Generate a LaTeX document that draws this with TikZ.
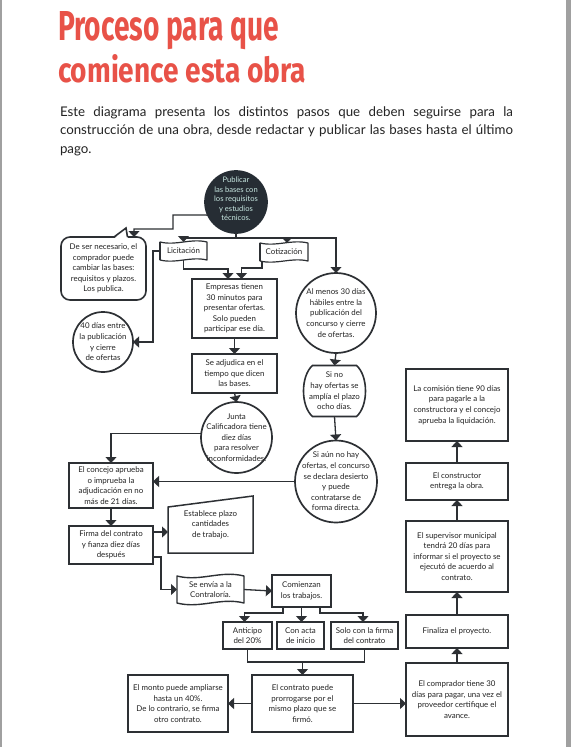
\documentclass[tikz,border=0pt]{standalone}
\usepackage{fontspec}
\setmainfont{Lato}
\newfontfamily\titlefont{Fira Sans}
\usetikzlibrary{arrows.meta,calc}
\definecolor{linec}{RGB}{45,48,52}
\definecolor{titlered}{RGB}{232,82,72}
\definecolor{txt}{RGB}{35,35,35}
\definecolor{darkfill}{RGB}{38,45,52}
\definecolor{mint}{RGB}{200,232,226}
\definecolor{barg}{RGB}{160,160,160}
\begin{document}
\begin{tikzpicture}[x=1pt,y=-1pt,
  every node/.style={inner sep=0pt, outer sep=0pt, text=txt},
  sm/.style={font=\fontsize{7.9}{10.6}\selectfont, align=center},
  box/.style={sm, draw=linec, line width=1.2pt, fill=white, rectangle},
  circ/.style={draw=linec, line width=1.7pt, circle, fill=white},
  conn/.style={draw=linec, line width=1.3pt, -{Triangle[width=11pt,length=6pt]}},
  plain/.style={draw=linec, line width=1.3pt},
  bannerline/.style={draw=linec, line width=1.2pt, line join=round}]

\useasboundingbox (0,0) rectangle (571,747);
\fill[white] (0,0) rectangle (571,747);
\fill[barg] (0,0) rectangle (2,747);
\fill[barg] (566,0) rectangle (571,747);

% title and intro
\node[anchor=base west, text=titlered, font=\titlefont\bfseries\fontsize{40}{40}\selectfont] (title1) at (58,40) {\resizebox{221pt}{29pt}{Proceso para que}};
\node[anchor=base west, text=titlered, font=\titlefont\bfseries\fontsize{40}{40}\selectfont] (title2) at (58,82) {\resizebox{248pt}{28pt}{comience esta obra}};
\node[anchor=base west, font=\fontsize{13.3}{16}\selectfont] (intro1) at (60,116) {\makebox[453pt][s]{Este diagrama presenta los distintos pasos que deben seguirse para la}};
\node[anchor=base west, font=\fontsize{13.3}{16}\selectfont] (intro2) at (60,134.5) {\makebox[453pt][s]{construcción de una obra, desde redactar y publicar las bases hasta el último}};
\node[anchor=base west, font=\fontsize{13.3}{16}\selectfont] (intro3) at (60,153) {pago.};

% nodes
\node[circ, fill=darkfill, draw=darkfill, minimum size=62pt, label={[font=\fontsize{7.6}{9.4}\selectfont, align=center, text=mint, yshift=3pt]center:{Publicar\\las bases con\\los requisitos\\y estudios\\técnicos.}}] (publicar) at (236,202) {};

\node[box, rounded corners=9pt, line width=1.6pt, minimum width=85pt, minimum height=63pt] (bubble) at (103.5,268.5) {De ser necesario, el\\comprador puede\\cambiar las bases:\\requisitos y plazos.\\Los publica.};
\fill[white] (114.5,238.2) -- (126,228) -- (127.8,238.2) -- cycle;
\draw[linec, line width=1.6pt, line join=miter] (114,237) -- (126,228) -- (127.5,237);

\node[circ, minimum size=60pt, label={[sm]center:{40 días entre\\la publicación\\y cierre\\de ofertas}}] (circ40) at (103,342) {};

\node[sm, minimum width=47pt, minimum height=18pt] (lic) at (183.5,251) {Licitación};
\draw[bannerline] (lic.north west) .. controls ($(lic.north west)!0.35!(lic.north east)+(0,4)$) and ($(lic.north west)!0.65!(lic.north east)+(0,-4)$) .. (lic.north east) -- (lic.south east) .. controls ($(lic.south west)!0.65!(lic.south east)+(0,-4)$) and ($(lic.south west)!0.35!(lic.south east)+(0,4)$) .. (lic.south west) -- cycle;
\draw[linec, line width=2.2pt] (lic.north west) -- (lic.south west);
\node[sm, minimum width=48pt, minimum height=18pt] (cot) at (284,252) {Cotización};
\draw[bannerline] (cot.north west) .. controls ($(cot.north west)!0.35!(cot.north east)+(0,4)$) and ($(cot.north west)!0.65!(cot.north east)+(0,-4)$) .. (cot.north east) -- (cot.south east) .. controls ($(cot.south west)!0.65!(cot.south east)+(0,-4)$) and ($(cot.south west)!0.35!(cot.south east)+(0,4)$) .. (cot.south west) -- cycle;
\draw[linec, line width=2.2pt] (cot.north west) -- (cot.south west);

\node[box, minimum width=85pt, minimum height=59pt] (empresas) at (234.5,308.5) {Empresas tienen\\30 minutos para\\presentar ofertas.\\Solo pueden\\participar ese día.};
\node[box, minimum width=85pt, minimum height=39pt] (adjudica) at (234.5,373.5) {Se adjudica en el\\tiempo que dicen\\las bases.};
\node[circ, minimum size=71pt, label={[sm]center:{Junta\\Calificadora tiene\\diez días\\para resolver\\inconformidades.}}] (junta) at (236.5,437.5) {};

\node[circ, minimum size=80pt, label={[sm]center:{Al menos 30 días\\hábiles entre la\\publicación del\\concurso y cierre\\de ofertas.}}] (almenos) at (336,313) {};
\node[sm, minimum width=62pt, minimum height=51pt] (sino) at (334.5,391) {Si no\\hay ofertas se\\amplía el plazo\\ocho días.};
\draw[plain, line width=1.6pt] ($(sino.north west)+(9,0)$) -- ($(sino.north east)+(-9,0)$) .. controls ($(sino.east)+(3,-15)$) and ($(sino.east)+(3,15)$) .. ($(sino.south east)+(-9,0)$) -- ($(sino.south west)+(9,0)$) .. controls ($(sino.west)+(-3,15)$) and ($(sino.west)+(-3,-15)$) .. cycle;
\node[circ, minimum size=82pt, label={[sm]center:{Si aún no hay\\ofertas, el concurso\\se declara desierto\\y puede\\contratarse de\\forma directa.}}] (siaun) at (336,481.5) {};

\node[box, minimum width=84pt, minimum height=45pt] (concejo) at (111,485.5) {El concejo aprueba\\o imprueba la\\adjudicación en no\\más de 21 días.};
\node[box, minimum width=84pt, minimum height=38pt] (firma) at (111,545) {Firma del contrato\\y fianza diez días\\después};
\node[sm, minimum width=85pt, minimum height=57pt] (est) at (210.5,524.5) {Establece plazo\\cantidades\\de trabajo.};
\draw[plain, line width=1.5pt] ($(est.north west)+(0,11)$) -- (est.north east) -- (est.south east) -- (est.south west) -- cycle;

\node[sm, minimum width=67pt, minimum height=27pt] (contra) at (210.5,589.5) {Se envía a la\\Contraloría.};
\draw[bannerline, line width=1.4pt] (contra.north west) .. controls ($(contra.north west)!0.35!(contra.north east)+(0,6)$) and ($(contra.north west)!0.65!(contra.north east)+(0,-6)$) .. (contra.north east) -- (contra.south east) .. controls ($(contra.south west)!0.65!(contra.south east)+(0,-6)$) and ($(contra.south west)!0.35!(contra.south east)+(0,6)$) .. (contra.south west) -- cycle;
\node[box, minimum width=59pt, minimum height=32pt] (comienzan) at (301.5,591) {Comienzan\\los trabajos.};
\node[box, minimum width=49pt, minimum height=27pt] (anticipo) at (247.5,635.5) {Anticipo\\del 20\%};
\node[box, minimum width=47pt, minimum height=27pt] (conacta) at (300.5,635.5) {Con acta\\de inicio};
\node[box, minimum width=67pt, minimum height=27pt] (solo) at (364.5,635.5) {Solo con la firma\\del contrato};
\node[box, minimum width=100pt, minimum height=57pt] (monto) at (178,703.5) {El monto puede ampliarse\\hasta un 40\%.\\De lo contrario, se firma\\otro contrato.};
\node[box, minimum width=101pt, minimum height=57pt] (contrato) at (302.5,703.5) {El contrato puede\\prorrogarse por el\\mismo plazo que se\\firmó.};

\node[box, minimum width=102pt, minimum height=73pt] (comprador) at (457,699.5) {El comprador tiene 30\\días para pagar, una vez el\\proveedor certifique el\\avance.};
\node[box, minimum width=102pt, minimum height=33pt] (finaliza) at (457,631.5) {Finaliza el proyecto.};
\node[box, minimum width=102pt, minimum height=71pt] (supervisor) at (457,556.5) {El supervisor municipal\\tendrá 20 días para\\informar si el proyecto se\\ejecutó de acuerdo al\\contrato.};
\node[box, minimum width=102pt, minimum height=37pt] (constructor) at (457,481.5) {El constructor\\entrega la obra.};
\node[box, minimum width=102pt, minimum height=72pt] (comision) at (457,405) {La comisión tiene 90 días\\para pagarle a la\\constructora y el concejo\\aprueba la liquidación.};

% connectors
\draw[conn] (publicar.205) -- (173,215) -- (173,229) -| ([xshift=30.5pt]bubble.north);
\coordinate (split) at (236,238);
\draw[plain] (publicar.south) -- (split);
\draw[conn] (split) -| (lic.north);
\draw[conn] (split) -| ([xshift=3pt]cot.north);
\draw[conn] (split) -| (almenos.north);
\draw[conn] (lic.west) -- ++(-7,0) |- (circ40.east);
\draw[conn] (lic.south) |- (210,269) -| ([xshift=-6.5pt]empresas.north);
\draw[conn] ([xshift=2pt]cot.south west) |- (250,268) -| ([xshift=7pt]empresas.north);
\draw[conn] (empresas.south) -- (adjudica.north);
\draw[conn] (adjudica.south) -- (junta.north);
\draw[conn] (junta.174) -| (concejo.north);
\draw[conn] (almenos.south) -- (sino.north);
\draw[conn] (sino.south) -- (siaun.north);
\draw[conn] (siaun.west) -- (siaun.west -| concejo.east);
\draw[conn] (concejo.south) -- (firma.north);
\draw[conn] ([yshift=13pt]firma.east) -- ++(15,0);
\draw[conn] ([yshift=-12pt]firma.east) -- ++(8,0) |- (contra.west);
\draw[conn] (contra.east) -- (comienzan.west);
\draw[conn] ([xshift=-18.5pt]comienzan.south) -- ++(0,6) -| ([xshift=-3pt]anticipo.north);
\draw[conn] (comienzan.south) -- (comienzan.south |- conacta.north);
\draw[conn] ([xshift=18.5pt]comienzan.south) -- ++(0,6) -| ([xshift=-1.5pt]solo.north);
\draw[plain] (anticipo.south) -- ++(0,13) -| (solo.south);
\draw[conn] (contrato.north) ++(0,-13) -- (contrato.north);
\draw[conn] (contrato.west) -- (monto.east);
\draw[conn] (contrato.east) -- (contrato.east -| comprador.west);
\draw[conn] (comprador.north) -- (finaliza.south);
\draw[conn] (finaliza.north) -- (supervisor.south);
\draw[conn] (supervisor.north) -- (constructor.south);
\draw[conn] (constructor.north) -- (comision.south);
\end{tikzpicture}
\end{document}
